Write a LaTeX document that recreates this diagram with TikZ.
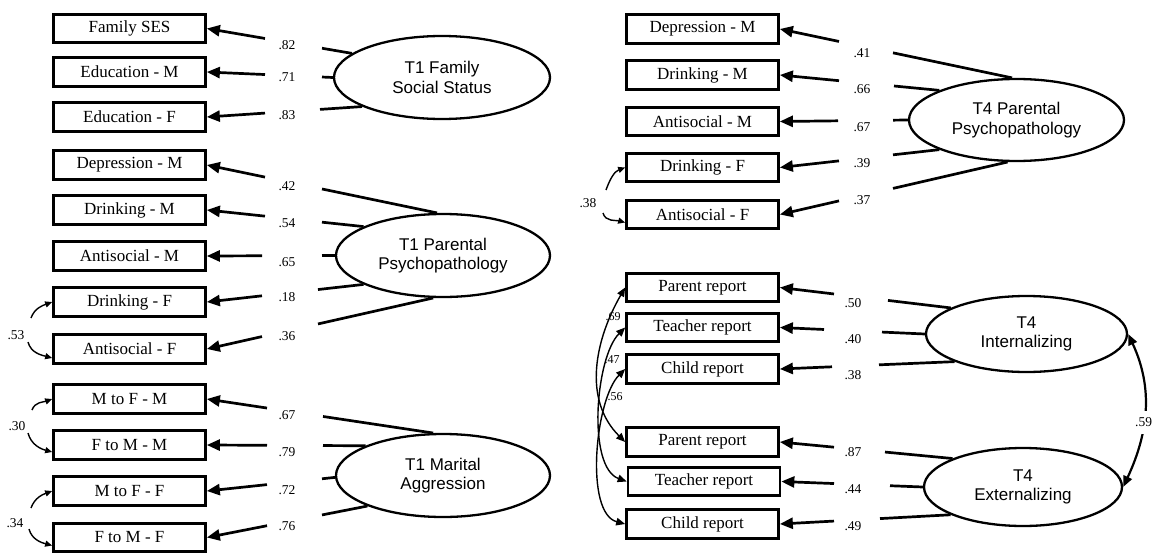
\documentclass[tikz,border=0pt]{standalone}
\usepackage{fontspec}
\setmainfont{Liberation Serif}
\newfontfamily\arialfont{Liberation Sans}
\usetikzlibrary{shapes.geometric,arrows.meta,calc,intersections}
\tikzset{
  box/.style={draw, line width=2.7pt, minimum width=152pt, minimum height=28.5pt, inner sep=0pt, font=\fontsize{17}{20}\selectfont},
  lat/.style={ellipse, draw, line width=2.3pt, inner sep=0pt, align=center, font=\arialfont\fontsize{17}{19.5}\selectfont},
  ldl/.style={line width=2.7pt},
  lda/.style={line width=2.7pt, -{Triangle[length=13pt,width=11pt]}},
  lab/.style={font=\fontsize{13.5}{13.5}\selectfont, inner sep=0.5pt},
  cov/.style={line width=1.4pt, -{Triangle[length=7pt,width=6pt]}},
  covb/.style={line width=1.4pt, {Triangle[length=9pt,width=7.5pt]}-{Triangle[length=9pt,width=7.5pt]}},
  covc/.style={line width=2.2pt, {Triangle[length=11pt,width=9pt]}-{Triangle[length=11pt,width=9pt]}}
}
\newcommand\loadline[4]{%
  \path[name path=ldL] (#1) -- (#2.east);
  \path[name path=ldR] (#3,10) -- (#3,-560);
  \path[name path=ldA] (#4,10) -- (#4,-560);
  \path[name intersections={of=ldL and ldR, by=ldpR}];
  \path[name intersections={of=ldL and ldA, by=ldpA}];
  \draw[ldl] (#1) -- (ldpR);
  \draw[lda] (ldpA) -- (#2.east);
}
\begin{document}
\begin{tikzpicture}[x=1pt,y=1pt]
\useasboundingbox (0,0) rectangle (1162,-554);
% left column boxes
\node[box] (fses)  at (129.5,-28.5) {Family SES};
\node[box] (edm)   at (129.5,-72)   {Education - M};
\node[box] (edf)   at (129.5,-117)  {Education - F};
\node[box] (dep1m) at (129.5,-165)  {Depression - M};
\node[box] (dr1m)  at (129.5,-210)  {Drinking - M};
\node[box] (an1m)  at (129.5,-256)  {Antisocial - M};
\node[box] (dr1f)  at (129.5,-302)  {Drinking - F};
\node[box] (an1f)  at (129.5,-349)  {Antisocial - F};
\node[box] (mfm)   at (129.5,-399)  {M to F - M};
\node[box] (fmm)   at (129.5,-445)  {F to M - M};
\node[box] (mff)   at (129.5,-491)  {M to F - F};
\node[box] (fmf)   at (129.5,-537.5){F to M - F};
% right column boxes
\node[box] (dep4m) at (702.5,-29)   {Depression - M};
\node[box] (dr4m)  at (702.5,-75)   {Drinking - M};
\node[box] (an4m)  at (702.5,-121.5){Antisocial - M};
\node[box] (dr4f)  at (702.5,-167.5){Drinking - F};
\node[box] (an4f)  at (702.5,-214.5){Antisocial - F};
\node[box] (pri)   at (702.5,-287.5){Parent report};
\node[box] (tri)   at (702.5,-327.5){Teacher report};
\node[box] (cri)   at (702.5,-369)  {Child report};
\node[box] (pre)   at (702.5,-442)  {Parent report};
\node[box] (tre)   at (704,-481.5)  {Teacher report};
\node[box] (cre)   at (702.5,-524)  {Child report};
% latent variables
\node[lat, minimum width=216pt, minimum height=83pt] (fam)  at (442,-77.5)   {T1 Family\\Social Status};
\node[lat, minimum width=214pt, minimum height=83pt] (par1) at (443,-255.5)  {T1 Parental\\Psychopathology};
\node[lat, minimum width=214pt, minimum height=83pt] (mar)  at (443,-475.5)  {T1 Marital\\Aggression};
\node[lat, minimum width=215pt, minimum height=82pt] (par4) at (1016.5,-120) {T4 Parental\\Psychopathology};
\node[lat, minimum width=201pt, minimum height=76pt] (int)  at (1026.5,-334) {T4\\Internalizing};
\node[lat, minimum width=198pt, minimum height=78pt] (ext)  at (1023,-487)   {T4\\Externalizing};
% loadings
\loadline{fam.165}{fses}{322}{265}
\loadline{fam.180}{edm}{322}{265}
\loadline{fam.200}{edf}{320}{265}
\loadline{par1.98}{dep1m}{322}{265}
\loadline{par1.160}{dr1m}{322}{265}
\loadline{par1.180}{an1m}{322}{262}
\loadline{par1.200}{dr1f}{318}{262}
\loadline{par1.257}{an1f}{318}{262}
\loadline{mar.103}{mfm}{323}{267}
\loadline{mar.159}{fmm}{323}{267}
\loadline{mar.181}{mff}{322}{267}
\loadline{mar.202}{fmf}{322}{267}
\loadline{par4.96}{dep4m}{893}{839}
\loadline{par4.159}{dr4m}{894}{839}
\loadline{par4.180}{an4m}{893}{838}
\loadline{par4.201}{dr4f}{893}{839}
\loadline{par4.258}{an4f}{893}{839}
\loadline{int.161}{pri}{888}{834}
\loadline{int.180}{tri}{882}{824}
\loadline{int.201}{cri}{879}{832}
\loadline{ext.158}{pre}{885}{834}
\loadline{ext.180}{tre}{890}{834}
\loadline{ext.201}{cre}{880}{834}
% loading labels
\node[lab] (l82) at (287,-45)  {.82};
\node[lab] (l71) at (287,-77)  {.71};
\node[lab] (l83) at (287,-115) {.83};
\node[lab] (l42) at (287,-186) {.42};
\node[lab] (l54) at (287,-223) {.54};
\node[lab] (l65) at (287,-262) {.65};
\node[lab] (l18) at (287,-297) {.18};
\node[lab] (l36) at (287,-336) {.36};
\node[lab] (l67a) at (287,-415) {.67};
\node[lab] (l79) at (287,-452) {.79};
\node[lab] (l72) at (287,-490) {.72};
\node[lab] (l76) at (287,-526) {.76};
\node[lab] (l41) at (862,-53)  {.41};
\node[lab] (l66) at (862,-89)  {.66};
\node[lab] (l67b) at (862,-127) {.67};
\node[lab] (l39) at (862,-163) {.39};
\node[lab] (l37) at (862,-200) {.37};
\node[lab] (l50) at (853,-303) {.50};
\node[lab] (l40) at (853,-339) {.40};
\node[lab] (l38a) at (853,-375) {.38};
\node[lab] (l87) at (853,-452) {.87};
\node[lab] (l44) at (853,-489) {.44};
\node[lab] (l49) at (853,-526) {.49};
% left covariances
\coordinate (g53a) at (31,-318);
\coordinate (g53b) at (28,-342);
\draw[cov] (g53a) to[out=70,in=200] (dr1f.west);
\draw[cov] (g53b) to[out=-75,in=165] ([yshift=-9pt]an1f.west);
\node[lab] (l53) at (16,-335) {.53};
\coordinate (g30a) at (32,-410);
\coordinate (g30b) at (28,-433);
\draw[cov] (g30a) to[out=70,in=200] (mfm.west);
\draw[cov] (g30b) to[out=-75,in=165] ([yshift=-7pt]fmm.west);
\node[lab] (l30) at (17,-426) {.30};
\coordinate (g34a) at (31,-508);
\coordinate (g34b) at (29,-529);
\draw[cov] (g34a) to[out=70,in=200] (mff.west);
\draw[cov] (g34b) to[out=-75,in=165] ([yshift=-8pt]fmf.west);
\node[lab] (l34) at (15,-523) {.34};
\node[lab] (l38b) at (588,-203) {.38};
\coordinate (g38a) at (606,-190);
\coordinate (g38b) at (603,-213);
\draw[cov] (g38a) to[out=70,in=200] (dr4f.west);
\draw[cov] (g38b) to[out=-75,in=165] ([yshift=-8pt]an4f.west);
% right covariances between informants
\draw[covb] (pri.west) to[out=240,in=135] (pre.west);
\draw[covb] (tri.west) to[out=225,in=160,looseness=0.7] (tre.west);
\draw[covb] (cri.west) to[out=225,in=165,looseness=0.7] (cre.west);
\node[lab, font=\fontsize{12}{12}\selectfont] (l69) at (613,-317) {.69};
\node[lab, font=\fontsize{12}{12}\selectfont] (l47) at (612,-360) {.47};
\node[lab, font=\fontsize{12}{12}\selectfont] (l56) at (615,-397) {.56};
% latent covariance
\draw[covc] (int.east) to[out=-65,in=65] node[pos=0.58, fill=white, inner xsep=1pt, inner ysep=7pt, font=\fontsize{13.5}{13.5}\selectfont] (l59) {.59} (ext.east);
\end{tikzpicture}
\end{document}
